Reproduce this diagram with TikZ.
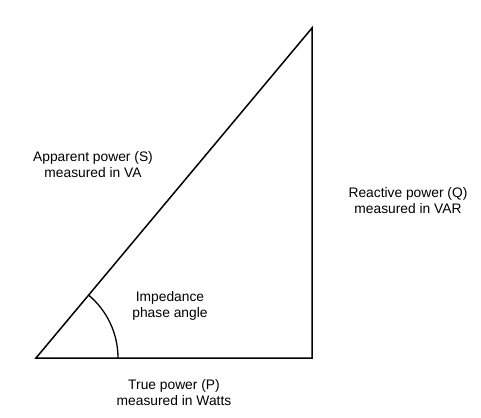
\documentclass[tikz,border=0pt]{standalone}
\usepackage{fontspec}
\setmainfont{Liberation Sans}
\begin{document}
\begin{tikzpicture}[x=1pt,y=-1pt,
  lbl/.style={align=center,font=\fontsize{13.8}{16}\selectfont,inner sep=0pt},
  edge/.style={line width=1.5pt,line join=miter}]
\useasboundingbox (0,0) rectangle (481,417);
\coordinate (A) at (36,358);
\coordinate (B) at (312,358);
\coordinate (C) at (312,28);
\draw[edge] (A) -- (B) -- (C) -- cycle;
\draw[line width=1.3pt] (118,358) arc[start angle=0,end angle=-50.1,radius=82];
\node[lbl] (s) at (93,165) {Apparent power (S)\\measured in VA};
\node[lbl] (q) at (408,201) {Reactive power (Q)\\measured in VAR};
\node[lbl] (i) at (170,306) {Impedance\\phase angle};
\node[lbl] (p) at (174,393) {True power (P)\\measured in Watts};
\end{tikzpicture}
\end{document}
